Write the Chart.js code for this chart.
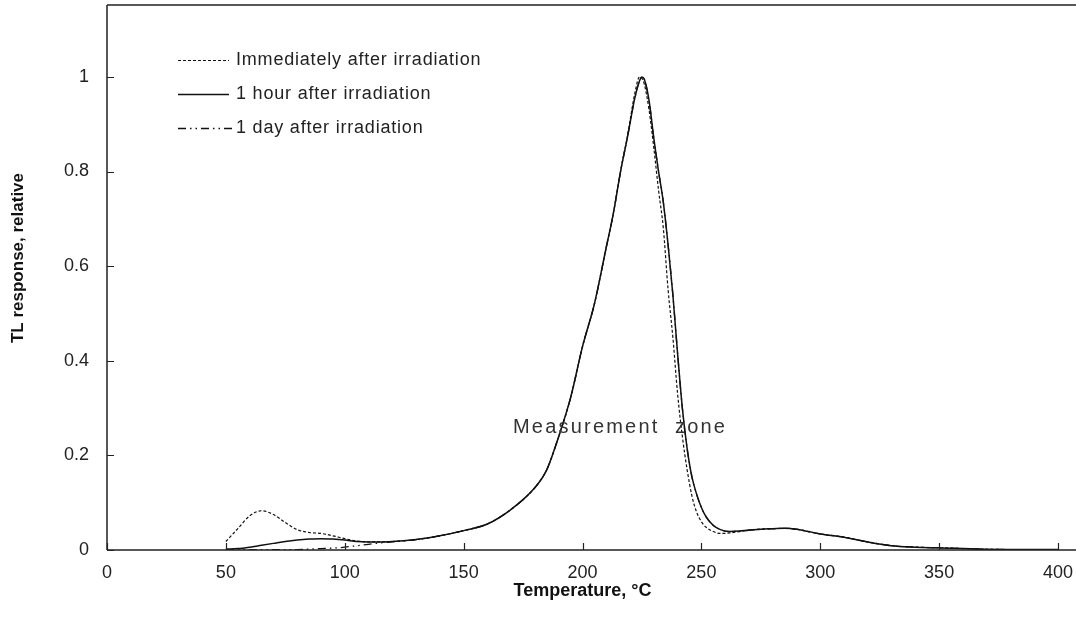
<!DOCTYPE html>
<html>
<head>
<meta charset="utf-8">
<script src="https://cdn.jsdelivr.net/npm/chart.js@4.4.1/dist/chart.umd.min.js"></script>
<style>
  html, body { margin: 0; padding: 0; background: #fff; }
  #wrap { width: 1076px; height: 631px; position: relative; }
</style>
</head>
<body>
<div id="wrap"><canvas id="c" width="1076" height="631"></canvas></div>
<script>
// ---- data ----
const temperatures = [50, 55, 60, 65, 70, 75, 80, 85, 90, 95, 100, 105, 110, 115, 120, 130, 140, 150, 160, 170,
  180, 185, 190, 195, 200, 205, 210, 213, 216, 219, 222, 224, 225, 226, 228, 230, 232, 234, 236, 238,
  240, 242, 244, 246, 248, 250, 252, 255, 258, 262, 266, 270, 275, 280, 285, 290, 295, 300, 310, 320,
  330, 340, 350, 360, 370, 380, 390, 400];

const immediateAfter = [0.018, 0.045, 0.072, 0.083, 0.075, 0.058, 0.043, 0.037, 0.035, 0.030, 0.024, 0.019, 0.017, 0.017, 0.018, 0.022, 0.030, 0.041, 0.055, 0.086,
  0.132, 0.170, 0.240, 0.322, 0.430, 0.520, 0.640, 0.712, 0.800, 0.878, 0.965, 1.000, 0.997, 0.985, 0.930, 0.850, 0.760, 0.680, 0.550, 0.450,
  0.330, 0.240, 0.170, 0.115, 0.080, 0.060, 0.048, 0.039, 0.035, 0.036, 0.039, 0.042, 0.044, 0.045, 0.046, 0.044, 0.039, 0.034, 0.027, 0.017,
  0.009, 0.006, 0.0045, 0.003, 0.0015, 0.001, 0.001, 0.001];

const oneHourAfter = [0.002, 0.003, 0.006, 0.010, 0.014, 0.018, 0.021, 0.023, 0.024, 0.023, 0.021, 0.018, 0.017, 0.017, 0.018, 0.022, 0.030, 0.041, 0.055, 0.086,
  0.132, 0.170, 0.240, 0.322, 0.430, 0.520, 0.640, 0.712, 0.800, 0.875, 0.955, 0.992, 1.000, 0.995, 0.950, 0.870, 0.800, 0.735, 0.645, 0.540,
  0.415, 0.300, 0.215, 0.155, 0.118, 0.090, 0.070, 0.052, 0.043, 0.039, 0.040, 0.042, 0.044, 0.045, 0.046, 0.044, 0.039, 0.034, 0.027, 0.017,
  0.009, 0.006, 0.0045, 0.003, 0.0015, 0.001, 0.001, 0.001];

const oneDayAfter = [0.001, 0.001, 0.001, 0.001, 0.001, 0.001, 0.001, 0.002, 0.003, 0.004, 0.006, 0.009, 0.012, 0.015, 0.017, 0.022, 0.030, 0.041, 0.055, 0.086,
  0.132, 0.170, 0.240, 0.322, 0.430, 0.520, 0.640, 0.712, 0.800, 0.875, 0.955, 0.992, 1.000, 0.995, 0.950, 0.870, 0.800, 0.735, 0.645, 0.540,
  0.415, 0.300, 0.215, 0.155, 0.118, 0.090, 0.070, 0.052, 0.043, 0.039, 0.040, 0.042, 0.044, 0.045, 0.046, 0.044, 0.039, 0.034, 0.027, 0.017,
  0.009, 0.006, 0.0045, 0.003, 0.0015, 0.001, 0.001, 0.001];

const seriesNames = ['Immediately after irradiation', '1 hour after irradiation', '1 day after irradiation'];
const xTickValues = [0, 50, 100, 150, 200, 250, 300, 350, 400];
const yTickValues = [0, 0.2, 0.4, 0.6, 0.8, 1];
const annotationText = 'Measurement  zone';
const xTitle = 'Temperature, °C';
const yTitle = 'TL response, relative';

// ---- styles ----
const INK = '#111';
const dashStyles = [[3, 2], [], [8, 4, 1.5, 4, 1.5, 4]];
const widths = [1.2, 1.5, 1.3];

function pairs(xs, ys) { return xs.map((x, i) => ({ x: x, y: ys[i] })); }

const allSeries = [immediateAfter, oneHourAfter, oneDayAfter];

const datasets = allSeries.map((vals, i) => ({
  label: seriesNames[i],
  data: pairs(temperatures, vals),
  borderColor: INK,
  borderWidth: widths[i],
  borderDash: dashStyles[i],
  pointRadius: 0,
  fill: false,
  cubicInterpolationMode: 'monotone'
}));

function noPad(s) { s.paddingTop = 0; s.paddingBottom = 0; s.paddingLeft = 0; s.paddingRight = 0; }

// frame, inward ticks, legend, y-axis title and annotation
const decorPlugin = {
  id: 'decor',
  afterDatasetsDraw(chart) {
    const { ctx, chartArea: a, scales } = chart;
    const W = chart.width;
    ctx.save();
    ctx.strokeStyle = '#222';
    ctx.lineWidth = 1.5;
    ctx.setLineDash([]);
    ctx.beginPath();
    ctx.moveTo(a.left, a.top); ctx.lineTo(W, a.top);
    ctx.moveTo(a.left, a.top); ctx.lineTo(a.left, a.bottom);
    ctx.moveTo(a.left, a.bottom); ctx.lineTo(W, a.bottom);
    ctx.stroke();
    // inward ticks
    ctx.lineWidth = 1.2;
    ctx.beginPath();
    yTickValues.forEach(v => {
      const y = Math.round(scales.y.getPixelForValue(v)) + 0.5;
      ctx.moveTo(a.left, y); ctx.lineTo(a.left + 7, y);
    });
    xTickValues.forEach(v => {
      const x = Math.round(scales.x.getPixelForValue(v)) + 0.5;
      ctx.moveTo(x, a.bottom); ctx.lineTo(x, a.bottom - 7);
    });
    ctx.stroke();

    // y-axis title (rotated)
    ctx.save();
    ctx.translate(18, 258);
    ctx.rotate(-Math.PI / 2);
    ctx.font = 'bold 17px "Liberation Sans", Arial, sans-serif';
    ctx.fillStyle = '#111';
    ctx.textAlign = 'center';
    ctx.textBaseline = 'middle';
    ctx.fillText(yTitle, 0, 0);
    ctx.restore();

    // legend
    const legY = [60, 94, 128];
    ctx.font = '18px "Liberation Sans", Arial, sans-serif';
    ctx.textBaseline = 'middle';
    ctx.fillStyle = '#222';
    try { ctx.letterSpacing = '0.8px'; } catch (e) {}
    seriesNames.forEach((name, i) => {
      ctx.save();
      ctx.strokeStyle = INK;
      ctx.lineWidth = widths[i];
      ctx.setLineDash(dashStyles[i]);
      ctx.beginPath();
      ctx.moveTo(178, legY[i] + 0.5);
      ctx.lineTo(i === 2 ? 232 : 229, legY[i] + 0.5);
      ctx.stroke();
      ctx.restore();
      ctx.fillText(name, 236, legY[i]);
    });

    // annotation
    ctx.font = '20px "Liberation Sans", Arial, sans-serif';
    try { ctx.letterSpacing = '2.2px'; } catch (e) {}
    ctx.fillStyle = '#333';
    ctx.textBaseline = 'middle';
    ctx.fillText(annotationText, 513, 427);
    ctx.restore();
  }
};

new Chart(document.getElementById('c'), {
  type: 'line',
  data: { datasets: datasets },
  options: {
    responsive: false,
    animation: false,
    devicePixelRatio: 1,
    layout: { padding: { top: 5, right: 18, left: 0, bottom: 0 } },
    plugins: { legend: { display: false }, tooltip: { enabled: false } },
    scales: {
      x: {
        type: 'linear',
        min: 0, max: 400,
        afterBuildTicks: s => { s.ticks = xTickValues.map(v => ({ value: v })); },
        afterFit: s => { s.height = 81; noPad(s); },
        grid: { display: false, drawTicks: false },
        border: { display: false },
        ticks: {
          padding: 12,
          color: '#222',
          font: { family: '"Liberation Sans", Arial, sans-serif', size: 18 },
          maxRotation: 0,
          callback: v => String(v)
        },
        title: {
          display: true,
          text: xTitle,
          color: '#111',
          font: { family: '"Liberation Sans", Arial, sans-serif', size: 18, weight: 'bold' },
          padding: { top: 0, bottom: 29 }
        }
      },
      y: {
        type: 'linear',
        min: 0, max: 1.152,
        afterBuildTicks: s => { s.ticks = yTickValues.map(v => ({ value: v })); },
        afterFit: s => { s.width = 107; noPad(s); },
        grid: { display: false, drawTicks: false },
        border: { display: false },
        ticks: {
          padding: 18,
          color: '#222',
          font: { family: '"Liberation Sans", Arial, sans-serif', size: 18 },
          callback: v => String(Math.round(v * 10) / 10)
        },
        title: { display: false, text: yTitle }
      }
    }
  },
  plugins: [decorPlugin]
});
</script>
</body>
</html>
